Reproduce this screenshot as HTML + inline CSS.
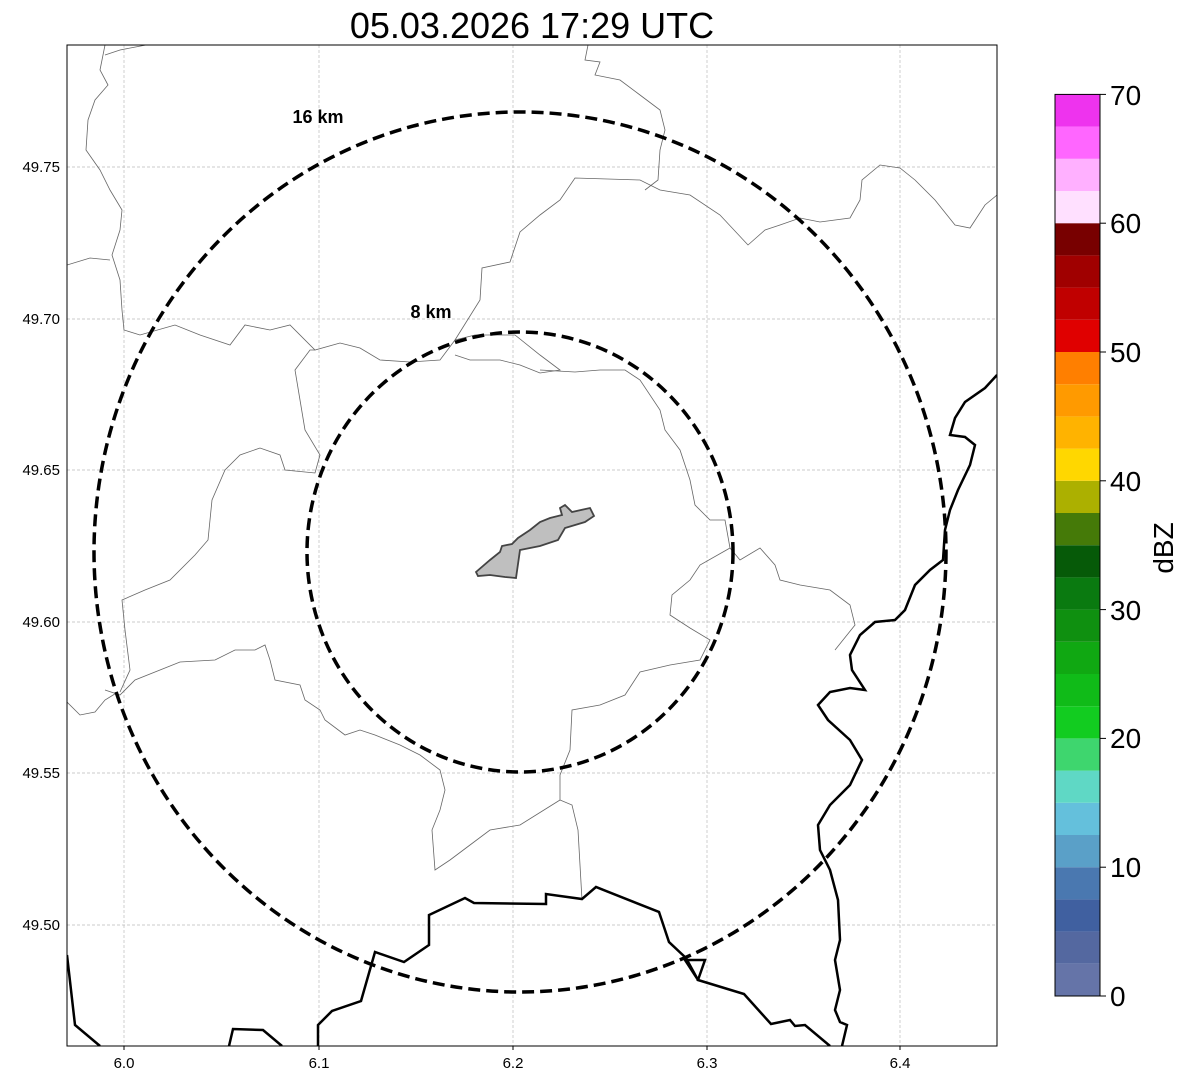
<!DOCTYPE html>
<html><head><meta charset="utf-8"><style>
body{margin:0;background:#fff;}
svg{display:block;font-family:"Liberation Sans","DejaVu Sans",sans-serif;}
</style></head><body>
<svg width="1188" height="1084" viewBox="0 0 1188 1084" xmlns="http://www.w3.org/2000/svg">
<rect width="1188" height="1084" fill="#fff"/>
<text x="532" y="38" font-size="36" text-anchor="middle">05.03.2026 17:29 UTC</text>
<defs><clipPath id="c"><rect x="67" y="45" width="930" height="1001"/></clipPath></defs>
<g stroke="#bbb" stroke-width="0.7" stroke-dasharray="3,2">
<line x1="124" y1="45" x2="124" y2="1046"/><line x1="319" y1="45" x2="319" y2="1046"/><line x1="513" y1="45" x2="513" y2="1046"/><line x1="707" y1="45" x2="707" y2="1046"/><line x1="900" y1="45" x2="900" y2="1046"/>
<line x1="67" y1="167" x2="997" y2="167"/><line x1="67" y1="319" x2="997" y2="319"/><line x1="67" y1="470" x2="997" y2="470"/><line x1="67" y1="622" x2="997" y2="622"/><line x1="67" y1="773" x2="997" y2="773"/><line x1="67" y1="925" x2="997" y2="925"/>
</g>
<g clip-path="url(#c)" fill="none">
<g stroke="#666" stroke-width="0.8">
<polyline points="105,45 100,70 108,85 95,100 88,120 86,150 100,170 110,190 122,210 120,230 112,255 120,280 122,310 124,330 140,335 175,325 200,335 230,345 245,325 270,330 290,325 315,350 340,343 360,348 380,360 410,362 440,360 455,340 475,335 515,335 540,355 560,370 540,373 520,365 500,360 470,360 455,355"/>
<polyline points="67,265 90,258 110,260"/>
<polyline points="146,45 120,50 105,55"/>
<polyline points="588,45 585,60 600,62 595,75 620,80 640,95 660,110 665,130 660,150 658,180 645,190"/>
<polyline points="540,370 575,372 600,370 625,370 640,380 660,410 665,430 680,450 690,480 695,505 710,520 725,520 730,548"/>
<polyline points="730,548 740,560 760,548 775,565 780,580 800,585 830,590 850,605 855,625 835,650"/>
<polyline points="730,548 700,565 690,580 672,595 670,615 690,628 710,640 700,660 670,665 640,672 625,695 600,705 572,710 570,750 560,775 560,800 572,805 578,830 582,900"/>
<polyline points="560,800 520,825 490,830 470,845 450,860 435,870 432,830 440,810 445,790 440,770 420,755 400,745 375,735 360,730 345,735 325,720 320,710 305,700 300,685 275,680 270,660 265,645 255,650 235,650 215,660 180,662 160,670 135,680 120,695 105,690"/>
<polyline points="67,702 80,715 95,712 105,700 118,692"/>
<polyline points="120,692 130,670 125,630 122,600 145,590 170,580 195,555 208,540 212,500 225,470 240,455 260,448 280,455 285,470 315,473 320,455 305,430 300,400 295,370 310,350 315,350"/>
<polyline points="455,340 480,300 482,268 510,262 520,232 540,215 560,200 575,178 640,180 660,190 690,195 720,215 748,245 765,230 780,225 800,218 820,222 850,218 860,200 862,180 880,165 900,168 915,180 935,200 955,225 970,228 985,205 997,195"/>
</g>
<g stroke="#000" stroke-width="2.5">
<polyline points="67,955 75,1025 100,1046"/>
<polyline points="229,1046 233,1029 263,1030 282,1046"/>
<polyline points="318,1046 318,1025 332,1011 361,1001 375,952 404,962 429,945 429,915 465,898 474,903 546,904 546,894 582,899 596,887 659,912 669,942 686,958 698,980 685,960 705,960 698,980 744,994 771,1024 790,1020 795,1026 805,1025 830,1046"/>
<polyline points="997,375 985,388 965,402 955,418 950,435 965,437 975,445 970,465 958,490 950,510 945,530 943,560 930,570 915,585 905,610 895,620 875,622 860,635 850,655 852,670 865,690 850,688 830,692 818,705 828,720 850,740 862,760 850,785 830,805 818,825 820,850 830,870 838,900 840,940 835,960 840,990 835,1010 840,1022 847,1025 842,1046"/>
</g>
<ellipse cx="520" cy="552" rx="426" ry="440" stroke="#000" stroke-width="3.5" stroke-dasharray="12,6"/>
<ellipse cx="520" cy="552" rx="213" ry="220" stroke="#000" stroke-width="3.5" stroke-dasharray="12,6"/>
<polygon points="476,572 490,560 500,552 502,546 512,544 518,538 530,530 540,522 550,518 562,515 560,508 565,505 572,512 590,508 594,516 585,522 565,528 558,540 540,546 520,550 516,578 505,577 490,575 478,576" fill="#bfbfbf" stroke="#444" stroke-width="1.8"/>
</g>
<rect x="67" y="45" width="930" height="1001" fill="none" stroke="#000" stroke-width="1"/>
<text x="318" y="123" font-size="18" font-weight="bold" text-anchor="middle">16 km</text>
<text x="431" y="318" font-size="18" font-weight="bold" text-anchor="middle">8 km</text>
<g font-size="15" text-anchor="middle">
<text x="124" y="1068">6.0</text><text x="319" y="1068">6.1</text><text x="513" y="1068">6.2</text><text x="707" y="1068">6.3</text><text x="900" y="1068">6.4</text>
</g>
<g font-size="15" text-anchor="end">
<text x="60" y="172">49.75</text><text x="60" y="324">49.70</text><text x="60" y="475">49.65</text><text x="60" y="627">49.60</text><text x="60" y="778">49.55</text><text x="60" y="930">49.50</text>
</g>
<g stroke="#000" stroke-width="1"><line x1="124" y1="1046" x2="124" y2="1050"/><line x1="319" y1="1046" x2="319" y2="1050"/><line x1="513" y1="1046" x2="513" y2="1050"/><line x1="707" y1="1046" x2="707" y2="1050"/><line x1="900" y1="1046" x2="900" y2="1050"/></g>
<g>
<rect x="1055" y="963.8" width="45" height="32.2" fill="#6574a8"/>
<rect x="1055" y="931.6" width="45" height="32.2" fill="#5468a0"/>
<rect x="1055" y="899.4" width="45" height="32.2" fill="#4060a0"/>
<rect x="1055" y="867.2" width="45" height="32.2" fill="#4a78b0"/>
<rect x="1055" y="835" width="45" height="32.2" fill="#5aa0c8"/>
<rect x="1055" y="802.8" width="45" height="32.2" fill="#64c0dc"/>
<rect x="1055" y="770.6" width="45" height="32.2" fill="#5fd8c5"/>
<rect x="1055" y="738.4" width="45" height="32.2" fill="#3ed66e"/>
<rect x="1055" y="706.2" width="45" height="32.2" fill="#12cc20"/>
<rect x="1055" y="674" width="45" height="32.2" fill="#10bb18"/>
<rect x="1055" y="641.8" width="45" height="32.2" fill="#10a812"/>
<rect x="1055" y="609.6" width="45" height="32.2" fill="#0f9010"/>
<rect x="1055" y="577.4" width="45" height="32.2" fill="#0a7a10"/>
<rect x="1055" y="545.2" width="45" height="32.2" fill="#065a08"/>
<rect x="1055" y="513" width="45" height="32.2" fill="#457a08"/>
<rect x="1055" y="480.8" width="45" height="32.2" fill="#acb000"/>
<rect x="1055" y="448.6" width="45" height="32.2" fill="#ffd700"/>
<rect x="1055" y="416.4" width="45" height="32.2" fill="#ffb300"/>
<rect x="1055" y="384.2" width="45" height="32.2" fill="#ff9a00"/>
<rect x="1055" y="352" width="45" height="32.2" fill="#ff7f00"/>
<rect x="1055" y="319.8" width="45" height="32.2" fill="#e00000"/>
<rect x="1055" y="287.6" width="45" height="32.2" fill="#c00000"/>
<rect x="1055" y="255.4" width="45" height="32.2" fill="#a00000"/>
<rect x="1055" y="223.2" width="45" height="32.2" fill="#780000"/>
<rect x="1055" y="191" width="45" height="32.2" fill="#ffe0ff"/>
<rect x="1055" y="158.8" width="45" height="32.2" fill="#ffb0ff"/>
<rect x="1055" y="126.6" width="45" height="32.2" fill="#ff66ff"/>
<rect x="1055" y="94.4" width="45" height="32.2" fill="#ee33ee"/>
<rect x="1055" y="94.4" width="45" height="901.6" fill="none" stroke="#000" stroke-width="1"/>
</g>
<g stroke="#000" stroke-width="1">
<line x1="1100" y1="996" x2="1106" y2="996"/><line x1="1100" y1="867.2" x2="1106" y2="867.2"/><line x1="1100" y1="738.4" x2="1106" y2="738.4"/><line x1="1100" y1="609.6" x2="1106" y2="609.6"/><line x1="1100" y1="480.8" x2="1106" y2="480.8"/><line x1="1100" y1="352" x2="1106" y2="352"/><line x1="1100" y1="223.2" x2="1106" y2="223.2"/><line x1="1100" y1="94.4" x2="1106" y2="94.4"/>
</g>
<g font-size="28">
<text x="1110" y="1006">0</text><text x="1110" y="877">10</text><text x="1110" y="748">20</text><text x="1110" y="620">30</text><text x="1110" y="491">40</text><text x="1110" y="362">50</text><text x="1110" y="233">60</text><text x="1110" y="105">70</text>
</g>
<text transform="translate(1173,548) rotate(-90)" font-size="28" text-anchor="middle">dBZ</text>
</svg>
</body></html>
